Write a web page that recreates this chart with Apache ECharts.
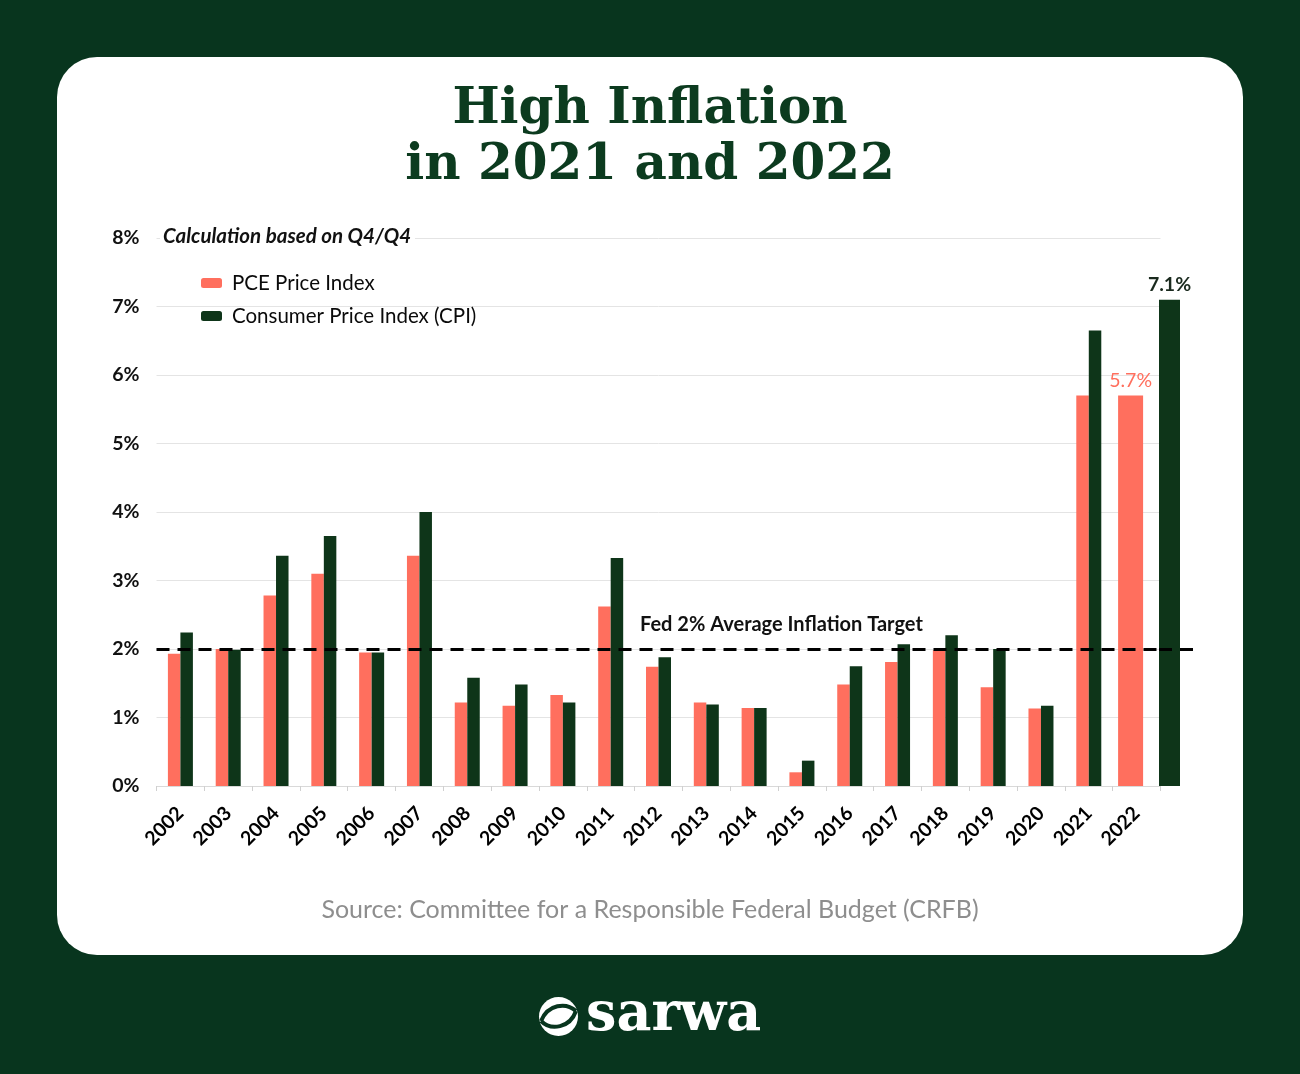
<!DOCTYPE html>
<html>
<head>
<meta charset="utf-8">
<script src="https://cdn.jsdelivr.net/npm/echarts@6/dist/echarts.min.js"></script>
<style>
html,body{margin:0;padding:0;background:#08351e;}
#c{width:1300px;height:1074px;}
</style>
</head>
<body>
<div id="c"></div>
<script>
const years = ['2002','2003','2004','2005','2006','2007','2008','2009','2010','2011','2012','2013','2014','2015','2016','2017','2018','2019','2020','2021','2022'];
const pce = [1.93,2.00,2.78,3.10,1.95,3.36,1.22,1.17,1.33,2.62,1.74,1.22,1.14,0.20,1.48,1.81,1.98,1.44,1.13,5.70,5.70];
const cpi = [2.24,1.99,3.36,3.65,1.95,4.00,1.58,1.48,1.22,3.33,1.88,1.19,1.14,0.37,1.75,2.07,2.20,2.00,1.17,6.65,7.10];
const fedTarget = 2;
const yMin = 0, yMax = 8, yStep = 1;

const SALMON = '#ff6f5e';
const DARK = '#0e3519';
const last = years.length - 1;

const pceMain = pce.map((v, i) => i === last ? '-' : v);
const cpiMain = cpi.map((v, i) => i === last ? '-' : v);
const pceLast = pce.map((v, i) => i === last ? v : '-');
const pad = years.map(() => '-');

const chart = echarts.init(document.getElementById('c'), null, {renderer: 'canvas'});
const F = 'Lato';

const dashLine = {
  silent: true,
  symbol: 'none',
  label: {show: false},
  lineStyle: {color: '#000', type: [13, 8], width: 3},
  data: [{yAxis: fedTarget}]
};

chart.setOption({
  backgroundColor: '#08351e',
  animation: false,
  graphic: [
    {type: 'rect', z: -10, shape: {x: 57, y: 57, width: 1186, height: 898, r: 40}, style: {fill: '#ffffff'}},
    {type: 'circle', z: 10, shape: {cx: 558.5, cy: 1016.5, r: 19.5}, style: {fill: '#ffffff'}},
    {type: 'bezierCurve', z: 11, shape: {x1: 541, y1: 1021, cpx1: 548, cpy1: 1004, cpx2: 566, cpy2: 1002, x2: 576, y2: 1011}, style: {stroke: '#08351e', lineWidth: 4, fill: null}},
    {type: 'bezierCurve', z: 11, shape: {x1: 541, y1: 1021, cpx1: 551, cpy1: 1031, cpx2: 570, cpy2: 1028, x2: 576, y2: 1011}, style: {stroke: '#08351e', lineWidth: 4, fill: null}},
    {type: 'text', z: 10, x: 586, y: 1016, style: {text: 'sarwa', fill: '#ffffff', font: 'bold 54px "DejaVu Serif"', verticalAlign: 'middle', textAlign: 'left'}}
  ],
  title: [
    {text: 'High Inflation\nin 2021 and 2022', left: 'center', top: 82, padding: 0,
     textStyle: {fontFamily: 'DejaVu Serif', fontWeight: 'bold', fontSize: 50, lineHeight: 56, color: '#0c3b1f'}},
    {text: 'Calculation based on Q4/Q4', left: 160, top: 226, padding: [0, 4, 0, 3], backgroundColor: '#ffffff',
     textStyle: {fontFamily: F, fontStyle: 'italic', fontWeight: 'bold', fontSize: 20.5, color: '#111'}},
    {text: 'Fed 2% Average Inflation Target', left: 640, top: 615, padding: 0,
     textStyle: {fontFamily: F, fontWeight: 'bold', fontSize: 20, color: '#111'}},
    {text: 'Source: Committee for a Responsible Federal Budget (CRFB)', left: 'center', top: 897, padding: 0,
     textStyle: {fontFamily: F, fontWeight: 'normal', fontSize: 25, color: '#8e8e8e'}}
  ],
  legend: {
    data: ['PCE Price Index', 'Consumer Price Index (CPI)'],
    orient: 'vertical', left: 201, top: 272, padding: 0,
    itemWidth: 21, itemHeight: 10, itemGap: 11, icon: 'roundRect',
    selectedMode: false,
    textStyle: {fontFamily: F, fontSize: 20.5, lineHeight: 22, color: '#0a0a0a', padding: [0, 0, 0, 5]}
  },
  grid: [
    {left: 156.5, top: 238, width: 1004, height: 548},
    {left: 1159, top: 238, width: 39, height: 548}
  ],
  xAxis: [
    {type: 'category', gridIndex: 0, data: years,
     axisLine: {lineStyle: {color: '#d9d9d9', width: 1}},
     axisTick: {show: true, interval: 0, length: 5, lineStyle: {color: '#d0d0d0'}},
     axisLabel: {interval: 0, rotate: 45, margin: 24, fontFamily: F, fontWeight: 'bold', fontSize: 19.5, color: '#000'},
     splitLine: {show: false}},
    {type: 'category', gridIndex: 0, data: years, show: false},
    {type: 'category', gridIndex: 1, data: [years[last]], show: false}
  ],
  yAxis: [
    {type: 'value', gridIndex: 0, min: yMin, max: yMax, interval: yStep,
     axisLine: {show: false}, axisTick: {show: false},
     axisLabel: {formatter: '{value}%', margin: 17, fontFamily: F, fontWeight: 'bold', fontSize: 19.5, color: '#111'},
     splitLine: {lineStyle: {color: '#e4e4e4', width: 1}}},
    {type: 'value', gridIndex: 1, min: yMin, max: yMax, interval: yStep, show: false, splitLine: {show: false}}
  ],
  series: [
    {name: 'PCE Price Index', type: 'bar', xAxisIndex: 0, yAxisIndex: 0, data: pceMain,
     barWidth: 12.5, barGap: 0, itemStyle: {color: SALMON}},
    {name: 'Consumer Price Index (CPI)', type: 'bar', xAxisIndex: 0, yAxisIndex: 0, data: cpiMain,
     barWidth: 12.5, barGap: 0, itemStyle: {color: DARK}, markLine: dashLine},
    {name: 'PCE Price Index', type: 'bar', xAxisIndex: 1, yAxisIndex: 0, data: pceLast,
     barWidth: 25, barGap: 0, itemStyle: {color: SALMON},
     label: {show: true, position: 'top', distance: 5, formatter: p => p.value + '%', fontFamily: F, fontSize: 19.5, fontWeight: 'normal', color: SALMON}},
    {name: 'pad1', type: 'bar', xAxisIndex: 1, yAxisIndex: 0, data: pad, barWidth: 12, barGap: 0, itemStyle: {color: 'transparent'}},
    {name: 'Consumer Price Index (CPI)', type: 'bar', xAxisIndex: 2, yAxisIndex: 1, data: [cpi[last]],
     barWidth: 21, barGap: 0, itemStyle: {color: DARK}, markLine: dashLine,
     label: {show: true, position: 'top', distance: 5, formatter: p => p.value + '%', fontFamily: F, fontSize: 19.5, fontWeight: 'bold', color: '#1a2a1e'}},
    {name: 'pad2', type: 'bar', xAxisIndex: 2, yAxisIndex: 1, data: ['-'], barWidth: 18, barGap: 0, itemStyle: {color: 'transparent'}}
  ]
});
</script>
</body>
</html>
